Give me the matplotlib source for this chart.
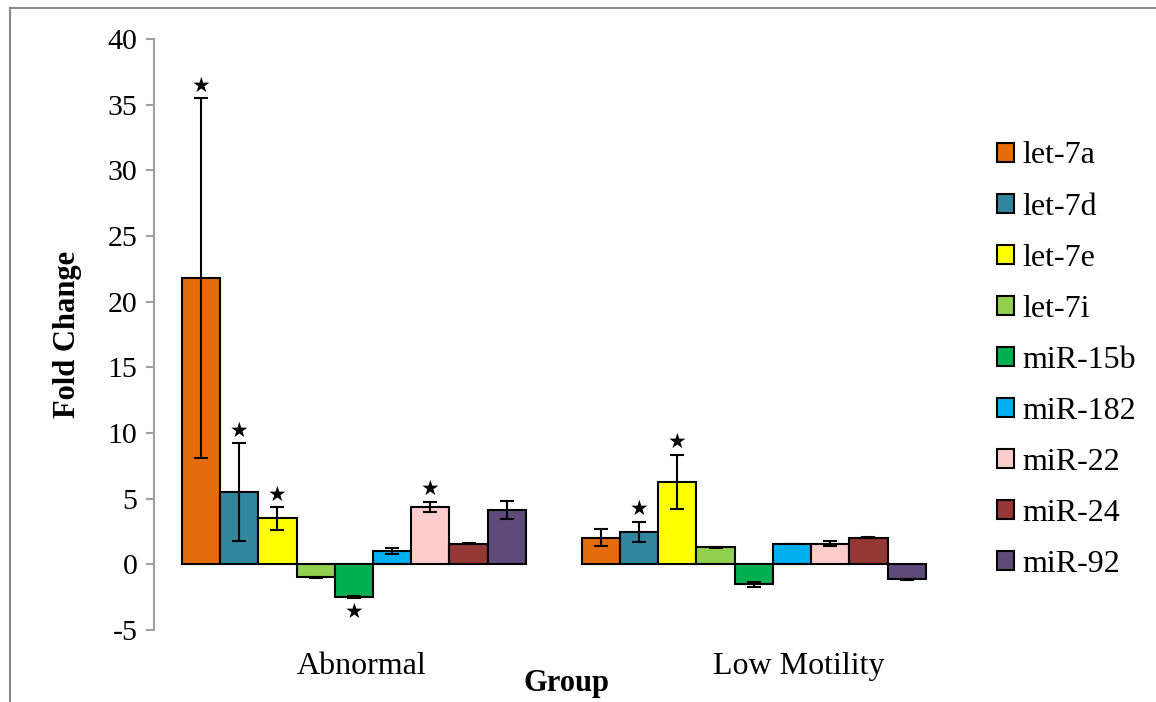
import numpy as np
import matplotlib
matplotlib.use("Agg")
import matplotlib.pyplot as plt
import matplotlib.transforms as mtransforms
from matplotlib.lines import Line2D

plt.rcParams['font.family'] = ['Liberation Serif', 'DejaVu Sans']
plt.rcParams['axes.unicode_minus'] = False

# data
groups = ["Abnormal", "Low Motility"]
genes = ["let-7a", "let-7d", "let-7e", "let-7i", "miR-15b", "miR-182", "miR-22", "miR-24", "miR-92"]
colors = ["#E46C0A", "#31859C", "#FFFF00", "#92D050", "#00B050", "#00B0F0", "#FFCCCC", "#953735", "#604A7B"]

abnormal = [21.8, 5.51, 3.5, -1.0, -2.48, 1.04, 4.37, 1.58, 4.11]
abnormal_err = [13.7, 3.72, 0.86, 0.03, 0.05, 0.23, 0.40, 0.03, 0.68]
low_motility = [2.03, 2.48, 6.29, 1.29, -1.52, 1.53, 1.58, 2.03, -1.14]
low_motility_err = [0.66, 0.75, 2.05, 0.03, 0.21, 0.02, 0.20, 0.03, 0.03]

# significance stars (group index, gene index)
stars = [(0, 0), (0, 1), (0, 2), (0, 4), (0, 6), (1, 1), (1, 2)]

values = np.array([abnormal, low_motility])
errors = np.array([abnormal_err, low_motility_err])

fig = plt.figure(figsize=(11.56, 7.02), dpi=100)
ax = fig.add_axes([0.1332, 0.1026, 0.825 - 0.1332, 0.9444 - 0.1026])

x = np.arange(len(groups))
n = len(genes)
width = 0.86 / n
for i, g in enumerate(genes):
    pos = x - 0.43 + width * (i + 0.5)
    ax.bar(pos, values[:, i], width, color=colors[i], edgecolor="black",
           linewidth=1.5, label=g, zorder=2)
    ax.errorbar(pos, values[:, i], yerr=errors[:, i], fmt="none", ecolor="black",
                elinewidth=1.5, capsize=4.8, capthick=1.5, zorder=3)

for gi, ii in stars:
    pos = x[gi] - 0.43 + width * (ii + 0.5)
    v = values[gi, ii]
    e = errors[gi, ii]
    if v >= 0:
        ax.annotate("★", xy=(pos, v + e), xytext=(0, 9), textcoords="offset points",
                    ha="center", va="center", fontsize=15, family="DejaVu Sans")
    else:
        ax.annotate("★", xy=(pos, v - e), xytext=(0, -10), textcoords="offset points",
                    ha="center", va="center", fontsize=15, family="DejaVu Sans")

ax.set_xlim(-0.5, 1.5)
ax.set_ylim(-5, 40)
ax.set_yticks(np.arange(-5, 41, 5))
ax.set_xticks(x)
ax.set_xticklabels(groups, fontsize=23)
ax.tick_params(axis="x", length=0, pad=16)
ax.tick_params(axis="y", labelsize=21.5, direction="out", length=6, color="#A0A0A0", width=1.5, pad=6)
# category labels sit a little right of the bar groups in the original
for lab, dx in zip(ax.get_xticklabels(), [8, 45]):
    lab.set_transform(lab.get_transform() + mtransforms.ScaledTranslation(dx / 100, 0, fig.dpi_scale_trans))
for s in ["top", "right", "bottom"]:
    ax.spines[s].set_visible(False)
ax.spines["left"].set_color("#A0A0A0")
ax.spines["left"].set_linewidth(1.5)

ax.set_ylabel("Fold Change", fontsize=22, fontweight="bold", labelpad=18)
fig.text(0.49, 0.027, "Group", fontsize=22, fontweight="bold", ha="center", va="center")

ax.legend(loc="center left", bbox_to_anchor=(0.8625, 0.487), bbox_transform=fig.transFigure,
          frameon=False, fontsize=23, handlelength=0.53, handleheight=0.53,
          handletextpad=0.25, labelspacing=0.69, borderpad=0, borderaxespad=0)

# outer chart frame
fig.add_artist(Line2D([10 / 1156, 10 / 1156], [0, 1 - 8 / 702], color="#888888", lw=1.5))
fig.add_artist(Line2D([10 / 1156, 1], [1 - 8 / 702, 1 - 8 / 702], color="#888888", lw=1.5))

fig.savefig("out.png", dpi=100)
